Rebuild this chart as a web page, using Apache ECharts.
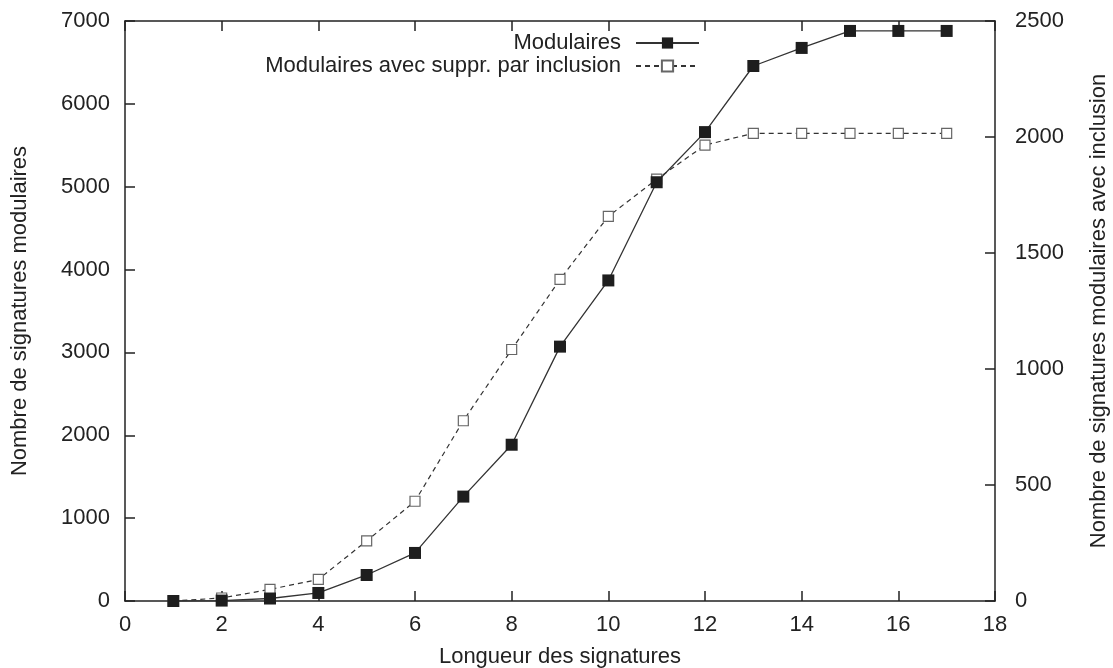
<!DOCTYPE html>
<html>
<head>
<meta charset="utf-8">
<script src="https://cdn.jsdelivr.net/npm/echarts@6/dist/echarts.min.js"></script>
<style>html,body{margin:0;padding:0;background:#fff}#c{width:1113px;height:668px}</style>
</head>
<body>
<div id="c"></div>
<script>
const lengths = [1, 2, 3, 4, 5, 6, 7, 8, 9, 10, 11, 12, 13, 14, 15, 16, 17];
const modulaires = [0, 5, 30, 97, 314, 580, 1260, 1886, 3070, 3869, 5054, 5659, 6457, 6675, 6880, 6880, 6880];
const inclusion = [0, 13, 50, 93, 259, 430, 777, 1084, 1386, 1658, 1818, 1965, 2016, 2016, 2016, 2016, 2016];
const seriesNames = ['Modulaires', 'Modulaires avec suppr. par inclusion'];
const xName = 'Longueur des signatures';
const yName = 'Nombre de signatures modulaires';
const y2Name = 'Nombre de signatures modulaires avec inclusion';

const FONT = 'Liberation Sans';
const FS = 22;
const TXT = '#222';
const chart = echarts.init(document.getElementById('c'), null, {renderer: 'canvas'});
const pairs = (xs, ys) => xs.map((x, i) => [x, ys[i]]);
const axisLine = {show: true, onZero: false, lineStyle: {color: '#222', width: 1.5}};
const tick = {show: true, inside: true, length: 10, lineStyle: {color: '#222', width: 1.5}};
const plain = v => String(v);
const lbl = {color: TXT, fontFamily: FONT, fontSize: FS, formatter: plain};
const nameStyle = {color: TXT, fontFamily: FONT, fontSize: FS};
const legendText = {color: TXT, fontFamily: FONT, fontSize: FS, padding: [0, 10, 0, 0]};
chart.setOption({
  animation: false,
  backgroundColor: '#fff',
  grid: {left: 125, right: 118, top: 21, bottom: 67, containLabel: false, outerBoundsMode: 'none'},
  legend: [
    {data: [seriesNames[0]], right: 408, top: 27, orient: 'vertical', align: 'right',
     itemWidth: 63, itemHeight: 14, textStyle: legendText},
    {data: [seriesNames[1]], right: 408, top: 50, orient: 'vertical', align: 'right',
     itemWidth: 63, itemHeight: 14, textStyle: legendText}
  ],
  xAxis: [
    {type: 'value', min: 0, max: 18, interval: 2, position: 'bottom',
     name: xName, nameLocation: 'middle', nameGap: 45, nameTextStyle: nameStyle,
     axisLine: axisLine, axisTick: tick,
     axisLabel: Object.assign({margin: 13}, lbl), splitLine: {show: false}},
    {type: 'value', min: 0, max: 18, interval: 2, position: 'top',
     axisLine: axisLine, axisTick: tick,
     axisLabel: {show: false}, splitLine: {show: false}}
  ],
  yAxis: [
    {type: 'value', min: 0, max: 7000, interval: 1000, position: 'left',
     name: yName, nameLocation: 'middle', nameGap: 94, nameRotate: 90, nameTextStyle: nameStyle,
     axisLine: axisLine, axisTick: tick,
     axisLabel: Object.assign({margin: 15}, lbl), splitLine: {show: false}},
    {type: 'value', min: 0, max: 2500, interval: 500, position: 'right',
     name: y2Name, nameLocation: 'middle', nameGap: 93, nameRotate: 90, nameTextStyle: nameStyle,
     axisLine: axisLine, axisTick: tick,
     axisLabel: Object.assign({margin: 20}, lbl), splitLine: {show: false}}
  ],
  series: [
    {name: seriesNames[0], type: 'line', xAxisIndex: 0, yAxisIndex: 0,
     data: pairs(lengths, modulaires), symbol: 'rect', symbolSize: 12,
     itemStyle: {color: '#1e1e1e'}, lineStyle: {color: '#333', width: 1.3, type: 'solid'}, z: 3},
    {name: seriesNames[1], type: 'line', xAxisIndex: 0, yAxisIndex: 1,
     data: pairs(lengths, inclusion), symbol: 'rect', symbolSize: 10,
     itemStyle: {color: '#fff', borderColor: '#666', borderWidth: 1.2},
     lineStyle: {color: '#333', width: 1.2, type: [5, 4]}, z: 2}
  ]
});
</script>
</body>
</html>
